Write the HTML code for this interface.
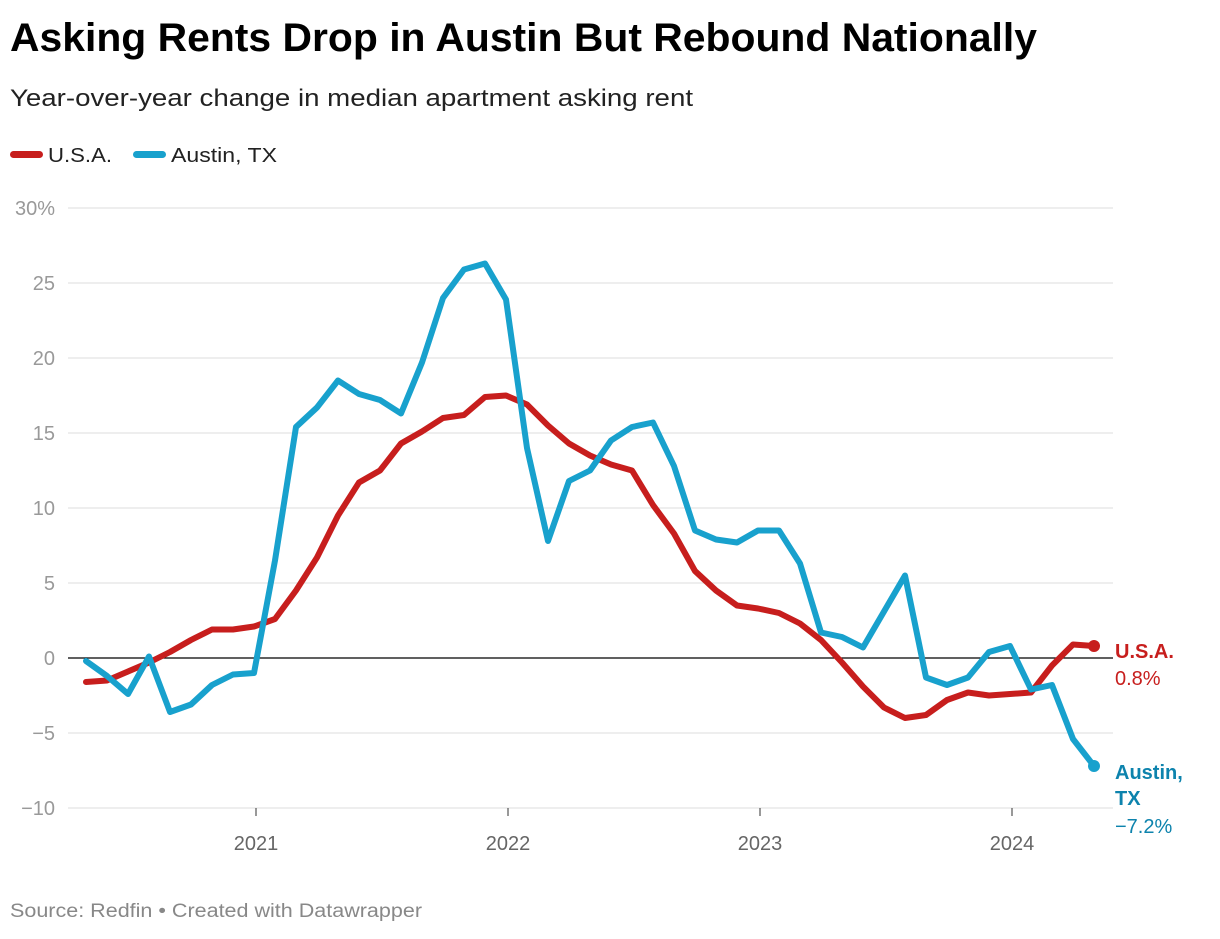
<!DOCTYPE html>
<html><head><meta charset="utf-8"><style>
body{margin:0;background:#fff;font-family:"Liberation Sans",sans-serif;}
svg text{font-family:"Liberation Sans",sans-serif;}
</style></head><body>
<svg width="1220" height="934">
<text x="10" y="51" font-size="40" font-weight="bold" fill="#000" textLength="1027" lengthAdjust="spacingAndGlyphs">Asking Rents Drop in Austin But Rebound Nationally</text>
<text x="10" y="106" font-size="24" fill="#222" textLength="683" lengthAdjust="spacingAndGlyphs">Year-over-year change in median apartment asking rent</text>
<g>
<rect x="10" y="151" width="33" height="7" rx="3.5" fill="#c71e1d"/>
<text x="48" y="162" font-size="20" fill="#222" textLength="64" lengthAdjust="spacingAndGlyphs">U.S.A.</text>
<rect x="133" y="151" width="33" height="7" rx="3.5" fill="#18a1cd"/>
<text x="171" y="162" font-size="20" fill="#222" textLength="106" lengthAdjust="spacingAndGlyphs">Austin, TX</text>
</g>
<g id="grid"></g><g id="series"></g>
<text x="10" y="917" font-size="19" fill="#888" textLength="412" lengthAdjust="spacingAndGlyphs">Source: Redfin • Created with Datawrapper</text>
</svg>
<script>
const yTicks=[30,25,20,15,10,5,0,-5,-10];
const yTickLabels=["30%","25","20","15","10","5","0","−5","−10"];
const xYears=[2021,2022,2023,2024];
const usa=[-1.6,-1.5,-0.9,-0.3,0.4,1.2,1.9,1.9,2.1,2.6,4.5,6.7,9.5,11.7,12.5,14.3,15.1,16.0,16.2,17.4,17.5,16.9,15.5,14.3,13.5,12.9,12.5,10.2,8.3,5.8,4.5,3.5,3.3,3.0,2.3,1.2,-0.3,-1.9,-3.3,-4.0,-3.8,-2.8,-2.3,-2.5,-2.4,-2.3,-0.5,0.9,0.8];
const austin=[-0.2,-1.2,-2.4,0.1,-3.6,-3.1,-1.8,-1.1,-1.0,6.5,15.4,16.7,18.5,17.6,17.2,16.3,19.7,24.0,25.9,26.3,23.9,14.0,7.8,11.8,12.5,14.5,15.4,15.7,12.8,8.5,7.9,7.7,8.5,8.5,6.3,1.7,1.4,0.7,3.1,5.5,-1.3,-1.8,-1.3,0.4,0.8,-2.1,-1.8,-5.4,-7.2];
const startYear=2020, startMonth=4; // May 2020 (0-based)
const NS="http://www.w3.org/2000/svg";
const y=v=>658-v*15;
const xm=i=>254+(startMonth+i-12)*21;
const xy=yr=>256+(yr-2021)*252;
const grid=document.getElementById('grid'), ser=document.getElementById('series');
function mk(tag,attrs,parent){const e=document.createElementNS(NS,tag);for(const k in attrs)e.setAttribute(k,attrs[k]);parent.appendChild(e);return e;}
yTicks.forEach((v,i)=>{
 const l=mk('line',{x1:68,x2:1113,y1:y(v),y2:y(v),stroke:v===0?'#000':'#ddd','stroke-width':v===0?1.3:1},grid);
 
 
 const t=mk('text',{x:55,y:y(v)+7,'font-size':20,fill:'#999','text-anchor':'end'},grid);
 t.textContent=yTickLabels[i];
 
 
});
xYears.forEach(yr=>{
 const l=mk('line',{x1:xy(yr),x2:xy(yr),y1:808,y2:816,stroke:'#333','stroke-width':1},grid);
 
 
 const t=mk('text',{x:xy(yr),y:850,'font-size':20,fill:'#666','text-anchor':'middle'},grid);
 t.textContent=yr;
 
 
});
function line(data,color,name){
 const d=data.map((v,i)=>(i?'L':'M')+xm(i)+','+y(v)).join('');
 const p=mk('path',{d:d,fill:'none',stroke:color,'stroke-width':6,'stroke-linejoin':'round','stroke-linecap':'round'},ser);
 
 
 const n=data.length-1;
 const c=mk('circle',{cx:xm(n),cy:y(data[n]),r:6,fill:color},ser);
 
 
}
line(usa,'#c71e1d','usa');
line(austin,'#18a1cd','austin');
function fmt(v){return (v<0?'−':'')+Math.abs(v).toFixed(1)+'%';}
const lu=usa[usa.length-1], la=austin[austin.length-1];
let t=mk('text',{x:1115,y:y(lu)+12,'font-size':20,'font-weight':'bold',fill:'#c71e1d'},ser);t.textContent='U.S.A.';


t=mk('text',{x:1115,y:y(lu)+39,'font-size':20,fill:'#c71e1d'},ser);t.textContent=fmt(lu);


t=mk('text',{x:1115,y:y(la)+13,'font-size':20,'font-weight':'bold',fill:'#0d83ad'},ser);t.textContent='Austin,';


t=mk('text',{x:1115,y:y(la)+39,'font-size':20,'font-weight':'bold',fill:'#0d83ad'},ser);t.textContent='TX';


t=mk('text',{x:1115,y:y(la)+67,'font-size':20,fill:'#0d83ad'},ser);t.textContent=fmt(la);


</script>
</body></html>
